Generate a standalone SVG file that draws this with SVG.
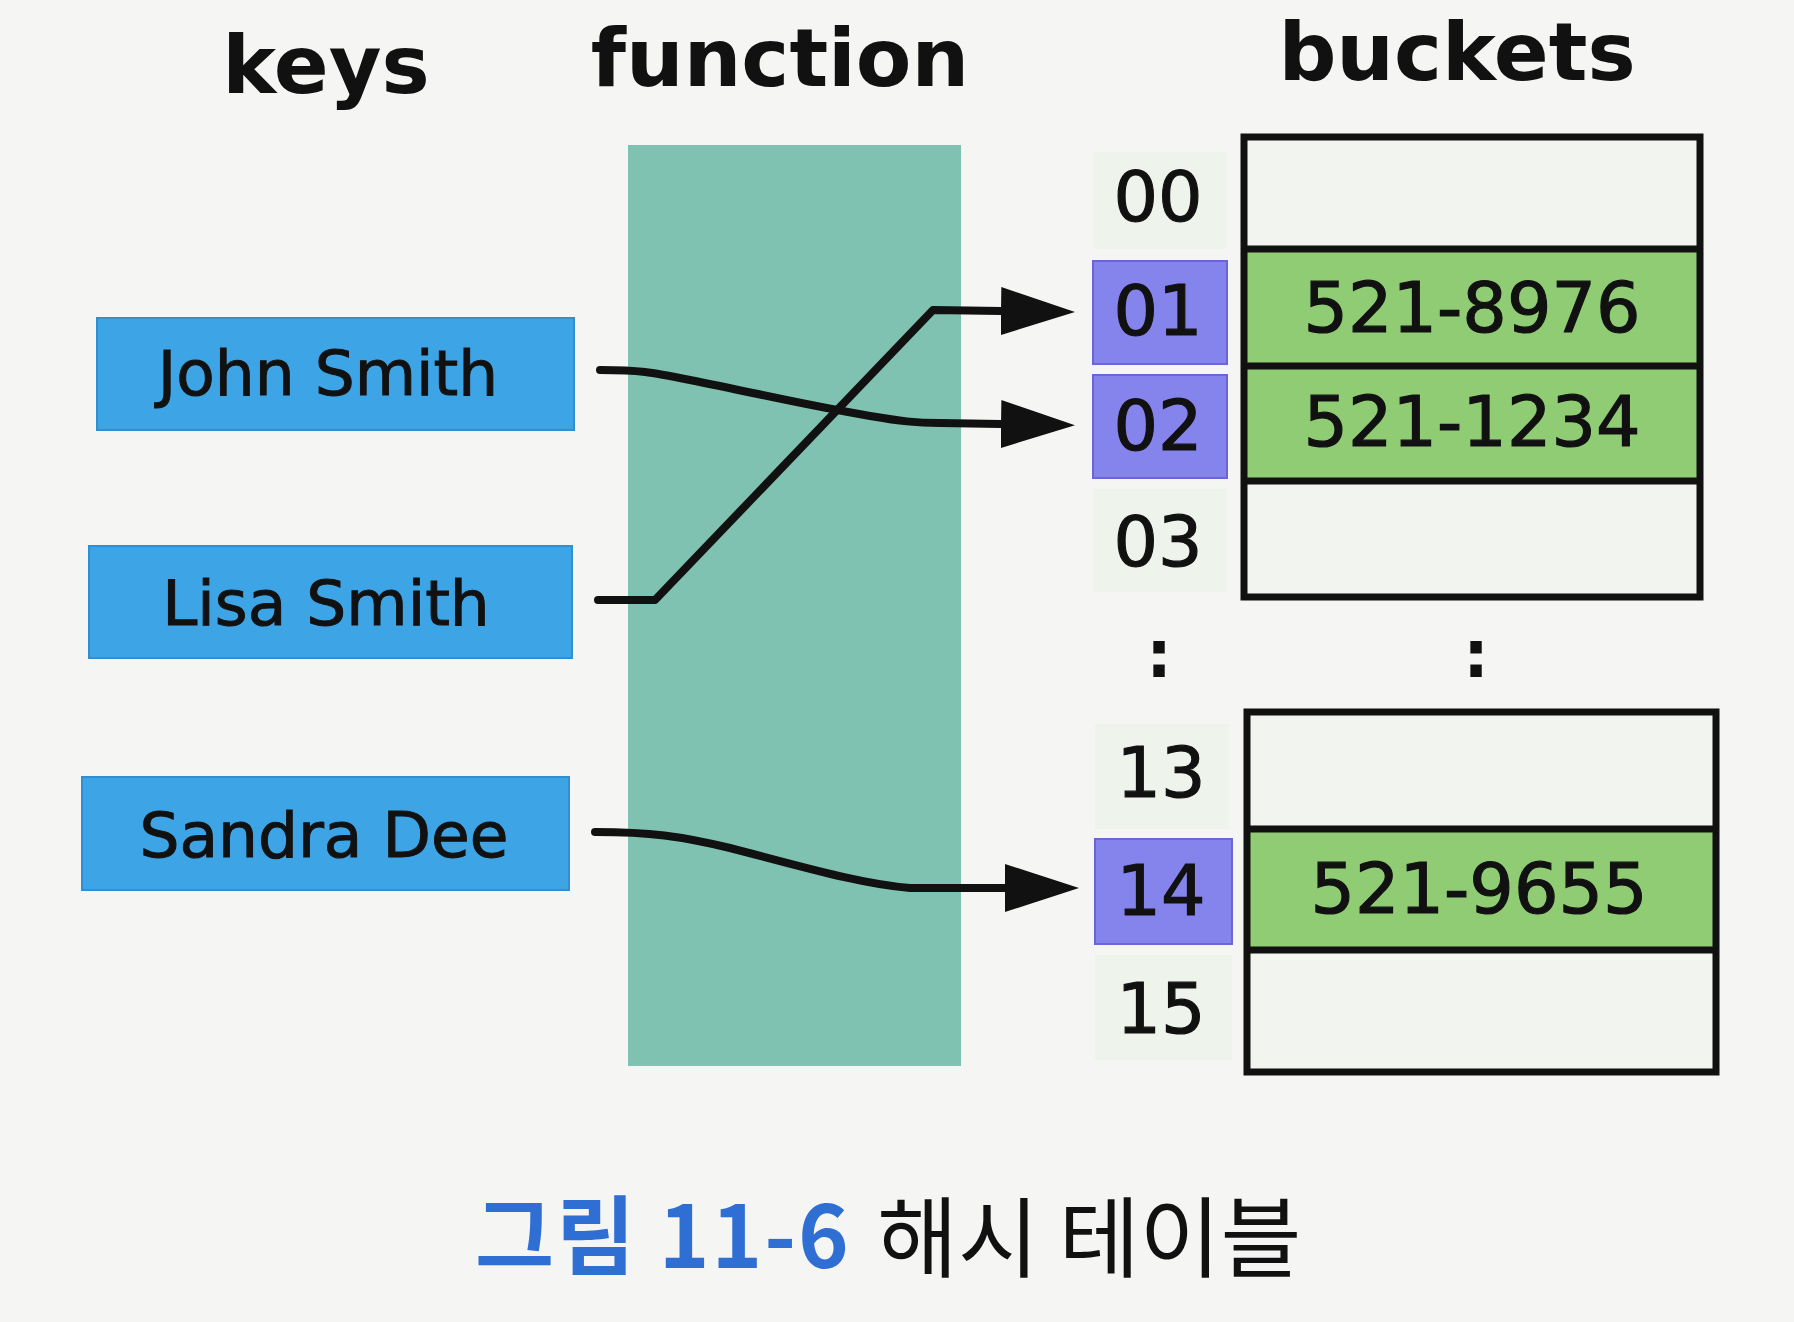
<svg xmlns="http://www.w3.org/2000/svg" width="1794" height="1322" viewBox="0 0 1794 1322">
<defs>
<style>
.title{font-family:"DejaVu Sans",sans-serif;font-weight:bold;font-size:81px;fill:#111;text-anchor:middle}
.key rect{fill:#3da5e5;stroke:#2f8fd0;stroke-width:2}
.key text{font-family:"DejaVu Sans",sans-serif;font-size:63px;fill:#111;stroke:#111;stroke-width:1;text-anchor:middle}
.idx text,.val{font-family:"DejaVu Sans",sans-serif;font-size:70px;fill:#111;stroke:#111;stroke-width:1.2;text-anchor:middle}
.idxlight{fill:#eef3ec}
.idxhot{fill:#8583ec;stroke:#6a66d8;stroke-width:2}
.empty{fill:#f2f4f0}
.full{fill:#90cc74}
.border{fill:none;stroke:#111;stroke-width:7}
.div{stroke:#111;stroke-width:7}
.conn{fill:none;stroke:#111;stroke-width:8;stroke-linecap:round;stroke-linejoin:round}
.dots{font-family:"DejaVu Sans Mono",monospace;font-weight:bold;font-size:70px;fill:#111;text-anchor:middle}
</style>
<marker id="ah" markerUnits="userSpaceOnUse" markerWidth="76" markerHeight="50" refX="0" refY="24" orient="auto">
<path d="M0,0 L74,24 L0,48 Z" fill="#111"/>
</marker>
</defs>
<rect width="1794" height="1322" fill="#f5f5f3"/>

<g id="titles">
<text class="title" x="326" y="93">keys</text>
<text class="title" x="780" y="86">function</text>
<text class="title" x="1457" y="80">buckets</text>
</g>

<g id="hash-function">
<rect x="628" y="145" width="333" height="921" fill="#80c2b2"/>
</g>

<g id="key-john" class="key">
<rect x="97" y="318" width="477" height="112"/>
<text x="328" y="395">John Smith</text>
</g>
<g id="key-lisa" class="key">
<rect x="89" y="546" width="483" height="112"/>
<text x="326" y="625">Lisa Smith</text>
</g>
<g id="key-sandra" class="key">
<rect x="82" y="777" width="487" height="113"/>
<text x="324" y="857">Sandra Dee</text>
</g>

<g id="index-00" class="idx"><rect class="idxlight" x="1093" y="152" width="134" height="97"/><text x="1158" y="221">00</text></g>
<g id="index-01" class="idx"><rect class="idxhot" x="1093" y="261" width="134" height="103"/><text x="1158" y="335">01</text></g>
<g id="index-02" class="idx"><rect class="idxhot" x="1093" y="375" width="134" height="103"/><text x="1158" y="450">02</text></g>
<g id="index-03" class="idx"><rect class="idxlight" x="1093" y="489" width="134" height="103"/><text x="1158" y="566">03</text></g>
<g id="index-13" class="idx"><rect class="idxlight" x="1095" y="724" width="134" height="105"/><text x="1161" y="797">13</text></g>
<g id="index-14" class="idx"><rect class="idxhot" x="1095" y="839" width="137" height="105"/><text x="1161" y="915">14</text></g>
<g id="index-15" class="idx"><rect class="idxlight" x="1095" y="955" width="137" height="105"/><text x="1161" y="1033">15</text></g>

<g id="buckets-top">
<rect class="empty" x="1244" y="137" width="456" height="112"/>
<rect class="full" x="1244" y="249" width="456" height="117"/>
<rect class="full" x="1244" y="366" width="456" height="115"/>
<rect class="empty" x="1244" y="481" width="456" height="116"/>
<rect class="border" x="1244" y="137" width="456" height="460"/>
<line class="div" x1="1244" y1="249" x2="1700" y2="249"/>
<line class="div" x1="1244" y1="366" x2="1700" y2="366"/>
<line class="div" x1="1244" y1="481" x2="1700" y2="481"/>
<text class="val" x="1472" y="332">521-8976</text>
<text class="val" x="1472" y="446">521-1234</text>
</g>

<g id="ellipsis">
<text class="dots" x="1159" y="677">:</text>
<text class="dots" x="1476" y="677">:</text>
</g>

<g id="buckets-bottom">
<rect class="empty" x="1247" y="712" width="469" height="117"/>
<rect class="full" x="1247" y="829" width="469" height="121"/>
<rect class="empty" x="1247" y="950" width="469" height="122"/>
<rect class="border" x="1247" y="712" width="469" height="360"/>
<line class="div" x1="1247" y1="829" x2="1716" y2="829"/>
<line class="div" x1="1247" y1="950" x2="1716" y2="950"/>
<text class="val" x="1479" y="913">521-9655</text>
</g>

<g id="connectors">
<path class="conn" marker-end="url(#ah)" d="M600,370 C640,370 650,372 690,380 C760,394 800,404 870,416 C900,421 915,423 940,423 L1001,424"/>
<path class="conn" marker-end="url(#ah)" d="M598,600 L655,600 L933,310 L1001,311"/>
<path class="conn" marker-end="url(#ah)" d="M595,832 C650,832 680,836 730,848 C800,866 860,884 910,888 L1005,888"/>
</g>

<g id="caption">
<text x="475" y="1268" font-family="'Noto Sans CJK KR',sans-serif" font-size="86" font-weight="bold" fill="#2f6fd3" letter-spacing="2">그림 11-6</text>
<text x="877" y="1270" font-family="'Noto Sans CJK KR',sans-serif" font-size="88" fill="#111">해시 테이블</text>
</g>
</svg>
